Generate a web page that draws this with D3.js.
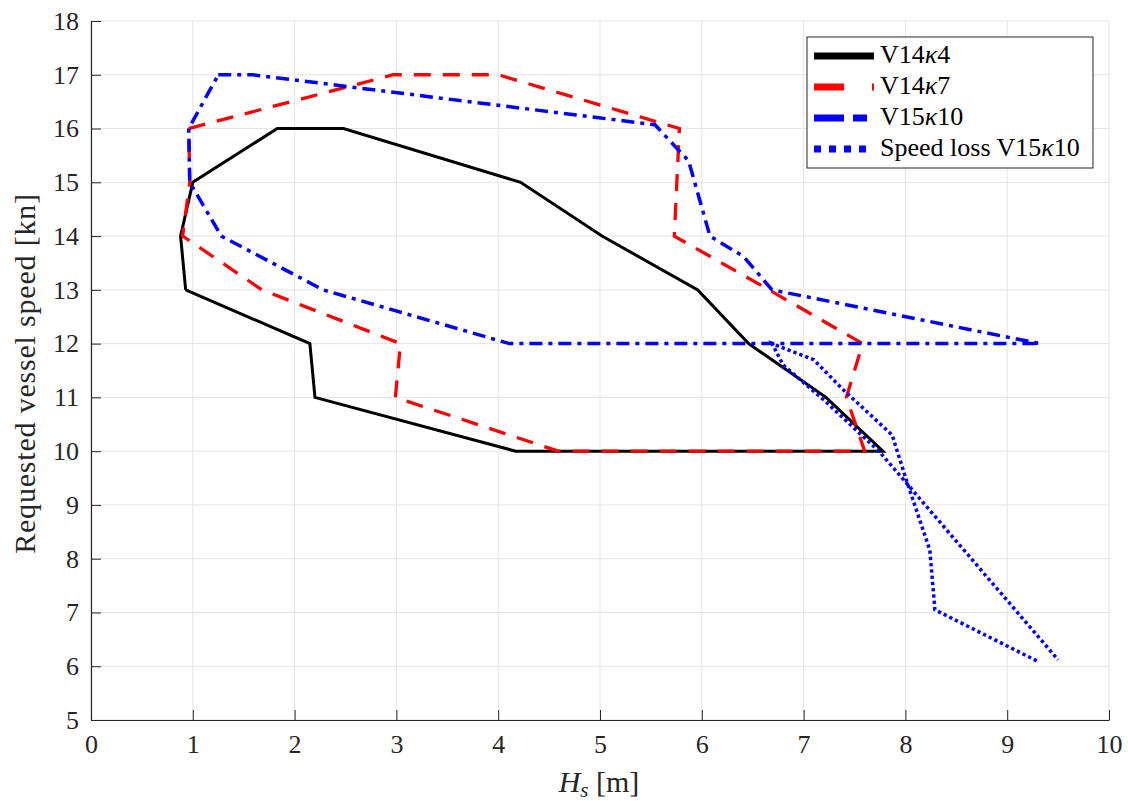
<!DOCTYPE html>
<html>
<head>
<meta charset="utf-8">
<script src="https://cdn.jsdelivr.net/npm/d3@7"></script>
<style>
  body { margin: 0; background: #fff; }
  svg { display: block; font-family: "Liberation Serif", "DejaVu Serif", serif; }
</style>
</head>
<body>
<div id="chart"></div>
<script>
// Operability contours: [Hs (m), requested speed (kn)]
const v14k4 = [[0.93,13],[0.88,14],[1.0,15],[1.83,16],[2.48,16],[4.22,15],[5.02,14],[5.96,13],[6.46,12],[7.22,11],[7.78,10],[4.17,10],[2.2,11],[2.15,12],[0.93,13]];
const v14k7 = [[0.96,16],[2.97,17],[4.0,17],[5.78,16],[5.73,14],[6.66,13],[7.58,12],[7.42,11],[7.6,10],[4.59,10],[2.99,11],[3.04,12],[1.68,13],[0.9,14],[0.97,15],[0.96,16]];
const v15k10 = [[1.25,17],[1.59,17],[5.54,16.07],[5.87,15.4],[6.08,14],[6.41,13.62],[6.69,13],[9.32,12],[4.11,12],[2.28,13],[1.28,14],[0.97,15],[0.96,16],[1.25,17]];
const speedLossV15k10 = [[9.29,6.1],[8.29,7.05],[8.24,8.16],[8.01,9.46],[7.87,10.3],[7.39,11.14],[7.1,11.7],[6.69,12],[6.8,11.6],[7.2,10.95],[7.75,9.98],[9.5,6.12]];

const xTicks = d3.range(0, 11, 1);
const yTicks = d3.range(5, 19, 1);

const series = [
  { name: "V14", sub: "4", data: v14k4, color: "#000", width: 3, dash: null, ldash: null },
  { name: "V14", sub: "7", data: v14k7, color: "#ff0000", width: 3.3, dash: "17,12", ldash: "30,28" },
  { name: "V15", sub: "10", data: v15k10, color: "#0000ff", width: 3.5, dash: "13,6,4,6", ldash: "30,9,14,9" },
  { name: "Speed loss V15", sub: "10", data: speedLossV15k10, color: "#0000ff", width: 3.5, dash: "3.3,3", ldash: "7,8" }
];

const W = 1128, H = 801;
const margin = { top: 21, right: 19, bottom: 81, left: 91 };

const svg = d3.select("#chart").append("svg")
  .attr("width", W)
  .attr("height", H);

const x = d3.scaleLinear().domain([0, 10]).range([margin.left, W - margin.right]);
const y = d3.scaleLinear().domain([5, 18]).range([H - margin.bottom, margin.top]);

// grid
svg.append("g")
  .selectAll("line")
  .data(xTicks)
  .join("line")
  .attr("x1", d => x(d)).attr("x2", d => x(d))
  .attr("y1", y(5)).attr("y2", y(18))
  .attr("stroke", "#e5e5e5").attr("stroke-width", 1);

svg.append("g")
  .selectAll("line")
  .data(yTicks)
  .join("line")
  .attr("x1", x(0)).attr("x2", x(10))
  .attr("y1", d => y(d)).attr("y2", d => y(d))
  .attr("stroke", "#e5e5e5").attr("stroke-width", 1);

// series
const line = d3.line().x(d => x(d[0])).y(d => y(d[1]));
series.forEach(s => {
  svg.append("path")
    .attr("d", line(s.data))
    .attr("fill", "none")
    .attr("stroke", s.color)
    .attr("stroke-width", s.width)
    .attr("stroke-dasharray", s.dash);
});

// axes
const xAxis = svg.append("g")
  .attr("transform", `translate(0,${y(5)})`)
  .call(d3.axisBottom(x).tickValues(xTicks).tickSizeInner(-10).tickSizeOuter(0).tickPadding(15));
const yAxis = svg.append("g")
  .attr("transform", `translate(${x(0)},0)`)
  .call(d3.axisLeft(y).tickValues(yTicks).tickSizeInner(-10).tickSizeOuter(0).tickPadding(12));

[xAxis, yAxis].forEach(a => {
  a.attr("font-family", null);
  a.select(".domain").attr("stroke", "#262626").attr("stroke-width", 1.2);
  a.selectAll(".tick line").attr("stroke", "#262626");
  a.selectAll(".tick text")
    .attr("fill", "#262626")
    .style("font-size", "26px");
});

// axis labels
svg.append("text")
  .attr("x", x(5) - 1)
  .attr("y", 792)
  .attr("text-anchor", "middle")
  .attr("fill", "#262626")
  .style("font-size", "30px")
  .call(t => {
    t.append("tspan").attr("font-style", "italic").text("H");
    t.append("tspan").attr("font-style", "italic").attr("font-size", "21px").attr("dy", 5).text("s");
    t.append("tspan").attr("dy", -5).text(" [m]");
  });

svg.append("text")
  .attr("transform", `translate(35,${(y(5) + y(18)) / 2 + 3}) rotate(-90)`)
  .attr("text-anchor", "middle")
  .attr("fill", "#262626")
  .style("font-size", "30px")
  .style("letter-spacing", "0.8px")
  .text("Requested vessel speed [kn]");

// legend
const legend = svg.append("g").attr("transform", "translate(807,37)");
legend.append("rect")
  .attr("width", 286).attr("height", 131)
  .attr("fill", "#fff")
  .attr("stroke", "#262626").attr("stroke-width", 1);

series.forEach((s, i) => {
  const ly = 19 + i * 31;
  legend.append("line")
    .attr("x1", 7).attr("x2", 67)
    .attr("y1", ly).attr("y2", ly)
    .attr("stroke", s.color)
    .attr("stroke-width", 7)
    .attr("stroke-dasharray", s.ldash);
  const t = legend.append("text")
    .attr("x", 73).attr("y", ly + 7)
    .attr("fill", "#000")
    .style("font-size", "26px");
  t.append("tspan").text(s.name);
  t.append("tspan").attr("font-style", "italic").text("κ");
  t.append("tspan").text(s.sub);
});
</script>
</body>
</html>
